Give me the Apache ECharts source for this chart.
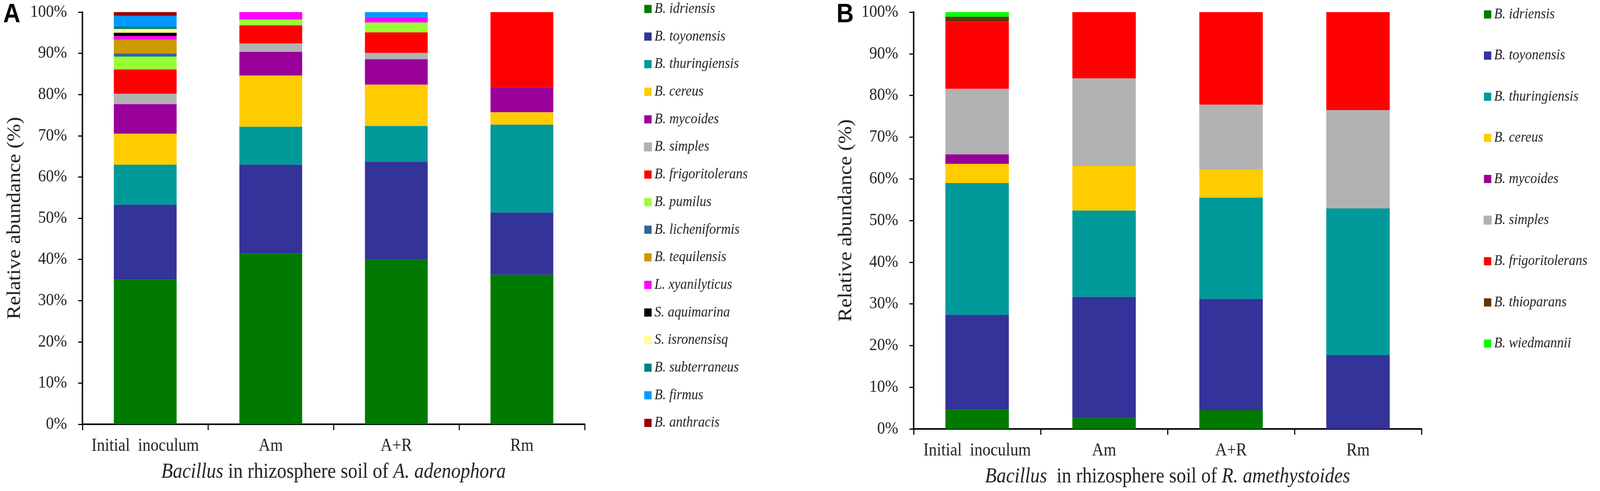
<!DOCTYPE html>
<html>
<head>
<meta charset="utf-8">
<script src="https://cdn.jsdelivr.net/npm/echarts@6/dist/echarts.min.js"></script>
<style>html,body{margin:0;padding:0;background:#fff;overflow:hidden;}#c{width:4562px;height:1258px;transform-origin:0 0;}</style>
</head>
<body>
<div id="c"></div>
<script>
// ---------- data ----------
const categories = ['Initial  inoculum', 'Am', 'A+R', 'Rm'];
const yTicks = [0, 10, 20, 30, 40, 50, 60, 70, 80, 90, 100];

// Panel A: Bacillus in rhizosphere soil of A. adenophora (percent)
const speciesA = ['B. idriensis','B. toyonensis','B. thuringiensis','B. cereus','B. mycoides','B. simples',
  'B. frigoritolerans','B. pumilus','B. licheniformis','B. tequilensis','L. xyanilyticus','S. aquimarina',
  'S. isronensisq','B. subterraneus','B. firmus','B. anthracis'];
const A_idriensis       = [35.1, 41.4, 39.9, 36.3];
const A_toyonensis      = [18.2, 21.6, 23.8, 15.1];
const A_thuringiensis   = [9.7, 9.2, 8.7, 21.3];
const A_cereus          = [7.5, 12.4, 10.0, 3.0];
const A_mycoides        = [7.2, 5.8, 6.2, 6.0];
const A_simples         = [2.5, 2.0, 1.5, 0];
const A_frigoritolerans = [5.9, 4.4, 5.0, 18.3];
const A_pumilus         = [3.1, 1.4, 2.4, 0];
const A_licheniformis   = [0.8, 0, 0, 0];
const A_tequilensis     = [3.3, 0, 0, 0];
const A_xyanilyticus    = [0.9, 1.8, 1.3, 0];
const A_aquimarina      = [0.8, 0, 0, 0];
const A_isronensisq     = [0.9, 0, 0, 0];
const A_subterraneus    = [0.6, 0, 0, 0];
const A_firmus          = [2.6, 0, 1.2, 0];
const A_anthracis       = [0.9, 0, 0, 0];

// Panel B: Bacillus in rhizosphere soil of R. amethystoides (percent)
const speciesB = ['B. idriensis','B. toyonensis','B. thuringiensis','B. cereus','B. mycoides','B. simples',
  'B. frigoritolerans','B. thioparans','B. wiedmannii'];
const B_idriensis       = [4.6, 2.6, 4.5, 0];
const B_toyonensis      = [22.8, 29.1, 26.7, 17.7];
const B_thuringiensis   = [31.6, 20.7, 24.3, 35.2];
const B_cereus          = [4.6, 10.7, 6.7, 0];
const B_mycoides        = [2.3, 0, 0, 0];
const B_simples         = [15.7, 21.0, 15.6, 23.6];
const B_frigoritolerans = [16.1, 15.9, 22.2, 23.5];
const B_thioparans      = [1.2, 0, 0, 0];
const B_wiedmannii      = [1.1, 0, 0, 0];

// ---------- styles ----------
const colors = {
  'B. idriensis':'#007A00','B. toyonensis':'#333399','B. thuringiensis':'#009999','B. cereus':'#FFCC00',
  'B. mycoides':'#990099','B. simples':'#B2B2B2','B. frigoritolerans':'#FF0000','B. pumilus':'#99FF33',
  'B. licheniformis':'#336699','B. tequilensis':'#CC9900','L. xyanilyticus':'#FF00FF','S. aquimarina':'#000000',
  'S. isronensisq':'#FFFF99','B. subterraneus':'#008080','B. firmus':'#0099FF','B. anthracis':'#990000',
  'B. thioparans':'#663300','B. wiedmannii':'#00FF00'
};
const seriesA = [A_idriensis,A_toyonensis,A_thuringiensis,A_cereus,A_mycoides,A_simples,A_frigoritolerans,
  A_pumilus,A_licheniformis,A_tequilensis,A_xyanilyticus,A_aquimarina,A_isronensisq,A_subterraneus,A_firmus,A_anthracis];
const seriesB = [B_idriensis,B_toyonensis,B_thuringiensis,B_cereus,B_mycoides,B_simples,B_frigoritolerans,
  B_thioparans,B_wiedmannii];

const SERIF = "'Liberation Serif','Times New Roman',serif";
const TXT = '#222';

// fit the 4562x1258 drawing into whatever viewport the browser really has
const box = document.getElementById('c');
const fx = Math.min(1, window.innerWidth / 4562), fy = Math.min(1, window.innerHeight / 1258);
box.style.transform = 'scale(' + fx + ',' + fy + ')';

function xAxis(gridIndex, title) {
  return {
    type: 'category', gridIndex, data: categories,
    axisLine: {lineStyle: {color: '#000', width: 4}},
    axisTick: {show: true, length: 15, lineStyle: {color: '#000', width: 3}, alignWithLabel: false},
    axisLabel: {fontFamily: SERIF, fontSize: 46, color: TXT, margin: 33, interval: 0},
    name: title, nameLocation: 'middle', nameGap: 96,
    nameTextStyle: {fontFamily: SERIF, fontSize: 54, color: TXT,
      rich: {i: {fontFamily: SERIF, fontSize: 54, color: TXT, fontStyle: 'italic'},
             n: {fontFamily: SERIF, fontSize: 54, color: TXT}}}
  };
}
function yAxis(gridIndex) {
  return {
    type: 'value', gridIndex, min: yTicks[0], max: yTicks[yTicks.length - 1], interval: 10,
    axisLine: {show: true, lineStyle: {color: '#000', width: 4}},
    axisTick: {show: true, length: 12, lineStyle: {color: '#000', width: 3}},
    splitLine: {show: false},
    axisLabel: {fontFamily: SERIF, fontSize: 45, color: TXT, margin: 44, formatter: '{value}%'},
    name: 'Relative abundance (%)', nameLocation: 'middle', nameGap: 165,
    nameTextStyle: {fontFamily: SERIF, fontSize: 54, color: TXT}
  };
}
function makeSeries(names, arrays, gridIdx, stack, borderSimples) {
  return names.map((nm, i) => {
    const st = {color: colors[nm]};
    if (borderSimples && nm === 'B. simples') { st.borderColor = colors[nm]; st.borderWidth = 5; }
    return {
      type: 'bar', name: nm, stack, xAxisIndex: gridIdx, yAxisIndex: gridIdx,
      barWidth: '50%', itemStyle: st, emphasis: {disabled: true},
      data: arrays[i].map(v => (v === 0 ? '-' : v))
    };
  });
}
function legend(names, left, top, gap) {
  return {
    orient: 'vertical', left, top, padding: 0, itemGap: gap,
    itemWidth: 21, itemHeight: 21, icon: 'rect', selectedMode: false,
    data: names,
    textStyle: {fontFamily: SERIF, fontStyle: 'italic', fontSize: 38, color: TXT, lineHeight: 40, padding: [0,0,0,3]}
  };
}

const chart = echarts.init(box, null, {renderer: 'canvas', width: 4562, height: 1258});
chart.setOption({
  animation: false,
  backgroundColor: '#fff',
  grid: [
    {left: 235, top: 31, width: 1432, height: 1056},
    {left: 2605, top: 31, width: 1448, height: 1068}
  ],
  xAxis: [
    xAxis(0, '{i|Bacillus}{n| in rhizosphere soil of }{i|A. adenophora}'),
    xAxis(1, '{i|Bacillus}{n|  in rhizosphere soil of }{i|R. amethystoides}')
  ],
  yAxis: [yAxis(0), yAxis(1)],
  legend: [
    legend(speciesA, 1836, 3, 30.7),
    legend(speciesB, 4230, 17, 65.4)
  ],
  graphic: [
    {type: 'text', left: 9, top: 4, style: {text: 'A', font: "bold 68px 'Liberation Sans', Arial, sans-serif", fill: '#000'}},
    {type: 'text', left: 2385, top: 4, style: {text: 'B', font: "bold 68px 'Liberation Sans', Arial, sans-serif", fill: '#000'}}
  ],
  series: [].concat(
    makeSeries(speciesA, seriesA, 0, 'A', true),
    makeSeries(speciesB, seriesB, 1, 'B', false)
  )
});
</script>
</body>
</html>
